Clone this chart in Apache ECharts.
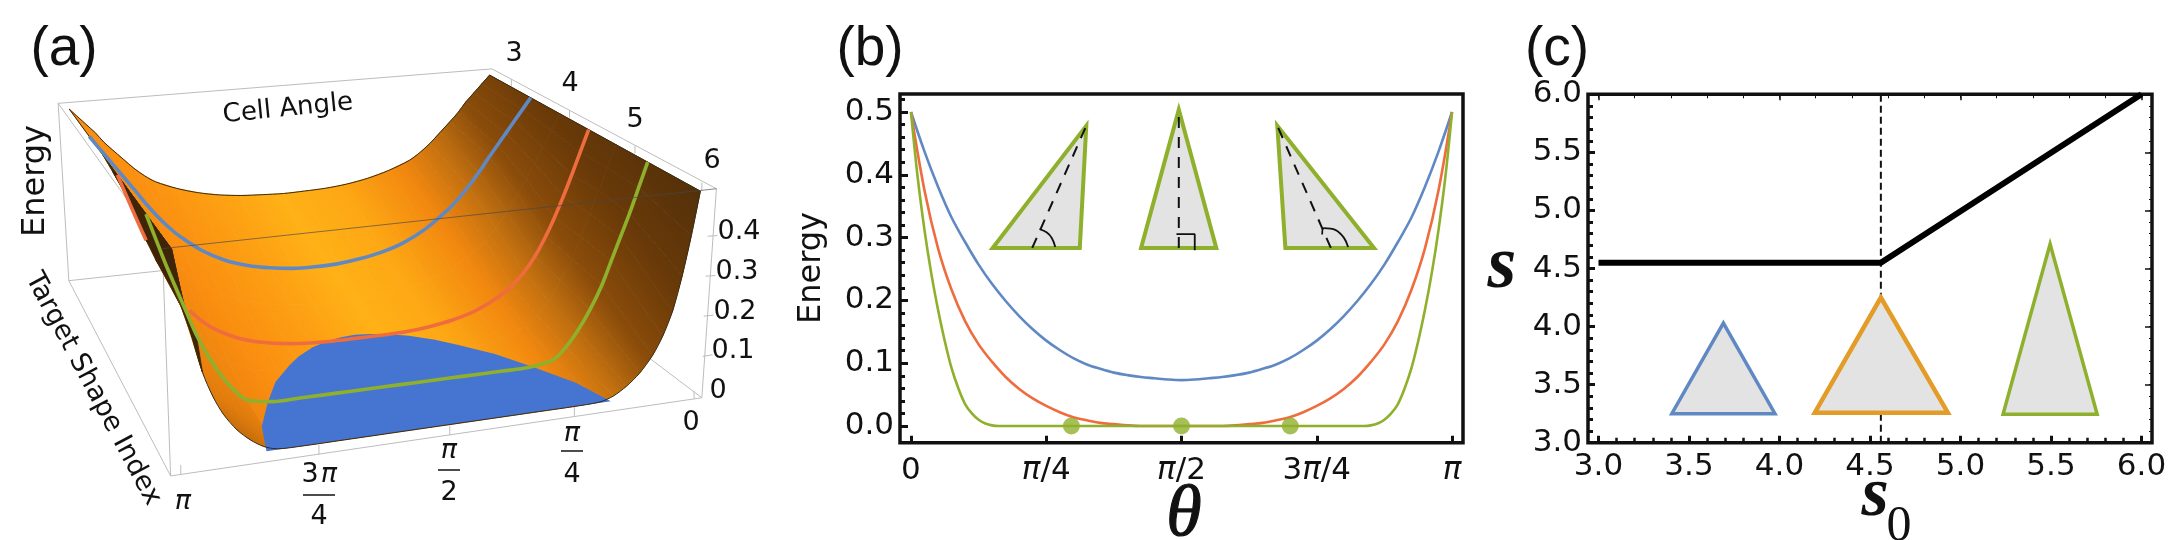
<!DOCTYPE html>
<html><head><meta charset="utf-8"><style>html,body{margin:0;padding:0;background:#fff}#c{width:2171px;height:540px}</style>
<script src="https://cdn.jsdelivr.net/npm/echarts@6/dist/echarts.min.js"></script></head><body><div id="c"></div>
<script>
// ---------- panel (b) data: theta as a fraction of pi, left half of each symmetric curve
const bThetaBlue  = [0,.025,.05,.075,.1,.125,.15,.175,.2,.225,.25,.275,.3,.325,.35,.375,.4,.425,.45,.475,.5];
const bBlue       = [.5,.437,.381,.332,.293,.257,.226,.199,.175,.154,.136,.121,.108,.098,.091,.085,.081,.078,.076,.074,.073];
const bThetaRed   = [0,.025,.05,.075,.1,.125,.15,.175,.2,.225,.25,.275,.3,.325,.35,.375,.4,.425,.5];
const bRed        = [.5,.375,.283,.217,.167,.130,.102,.078,.059,.044,.032,.022,.014,.009,.005,.003,.001,0,0];
const bThetaGreen = [0,.0125,.025,.0375,.05,.0625,.075,.0875,.1,.1125,.125,.1375,.15,.1625,.175,.3,.5];
const bGreen      = [.5,.395,.312,.243,.185,.135,.092,.06,.035,.02,.01,.004,.001,0,0,0,0];
const bDots       = [.2965,.5,.701];
const bXTicks     = [0,.25,.5,.75,1];
const bXLabels    = ['0','{i|π}/4','{i|π}/2','3{i|π}/4','{i|π}'];
const bYTicks     = [0,.1,.2,.3,.4,.5];
const bTriangles  = [[[.151,.2836],[.312,.2836],[.324,.478]],[[.4253,.2836],[.5643,.2836],[.495,.5037]],[[.692,.2836],[.8558,.2836],[.6771,.478]]];
const bDashes     = [[[.2241,.2836],[.324,.478]],[[.495,.2836],[.495,.5037]],[[.776,.2836],[.6771,.478]]];
const bMarks      = [[[.2667,.285],[.2605,.299],[.2512,.308],[.2377,.3134]],[[.4907,.3054],[.5245,.3054],[.5245,.28]],[[.808,.285],[.80,.30],[.785,.312],[.763,.315],[.76,.305]]];
// ---------- panel (c) data
const cS0 = [3,4.56,6];
const cS  = [4.55,4.55,6];
const cTicks = [3,3.5,4,4.5,5,5.5,6];
const cCritical = 4.56;
const cTriBlue   = [[3.405,3.25],[3.975,3.25],[3.69,4.03]];
const cTriOrange = [[4.195,3.258],[4.93,3.258],[4.56,4.25]];
const cTriGreen  = [[5.235,3.245],[5.755,3.245],[5.495,4.71]];
// ---------- panel (a) data: energy surface, left half of the symmetric theta profile
const aTheta = [0,.02,.04,.06,.08,.1,.125,.15,.175,.2,.25,.3,.35,.4,.45,.5];
const aShape = [0,.195,.333,.47,.6,.75,1]; // position along the target shape index axis, 3 to 6
const aRow30 = [.5,.475,.45,.425,.395,.37,.34,.31,.285,.265,.24,.222,.21,.203,.2,.198];
const aRowB  = [.5,.468,.436,.404,.372,.34,.298,.26,.226,.197,.15,.117,.096,.083,.075,.073];
const aRow40 = [.5,.455,.41,.366,.324,.283,.236,.196,.162,.134,.094,.069,.053,.043,.037,.034];
const aRowR  = [.5,.44,.38,.322,.268,.219,.166,.125,.094,.07,.038,.019,.008,.002,0,0];
const aRow48 = [.5,.44,.38,.322,.262,.205,.15,.10,.065,.04,.012,.002,0,0,0,0];
const aRowG  = [.5,.435,.37,.31,.25,.19,.13,.08,.04,.012,0,0,0,0,0,0];
const aRow60 = [.5,.39,.29,.205,.145,.10,.06,.032,.012,.002,0,0,0,0,0,0];
const aZeroV = [.45,.455,.465,.49,.53,.57,.65,.75,.87,1];
const aZeroH = [0,.03,.06,.10,.14,.17,.22,.26,.30,.32];

// ---------- panel (a) projection: corners of the surface in the panel's drawing units
const topC = {a:[1010,218], b:[1445,555], c:[143,317], d:[354,723]};
const baseC= {a:[1030,700], b:[1460,1124], c:[150,810], d:[350,1351]};
function bil(k,t,v,i){const a=k.a[i]*(1-t)+k.c[i]*t, b=k.b[i]*(1-t)+k.d[i]*t; return a*(1-v)+b*v;}
function project(t,v,E){const w=E/.5; return [0,1].map(i=>bil(baseC,t,v,i)*(1-w)+bil(topC,t,v,i)*w);}
const mirrorT = a=>a.concat(a.slice(0,-1).reverse().map(x=>1-x));
const mirrorE = a=>a.concat(a.slice(0,-1).reverse());
const fullT = mirrorT(aTheta);
const rows = [aRow30,aRowB,aRow40,aRowR,aRow48,aRowG,aRow60].map(mirrorE);
const rowLine = r=>fullT.map((t,i)=>project(t,aShape[r],rows[r][i]));
const quad=(r,c)=>[project(fullT[c],aShape[r],rows[r][c]),project(fullT[c+1],aShape[r],rows[r][c+1]),project(fullT[c+1],aShape[r+1],rows[r+1][c+1]),project(fullT[c],aShape[r+1],rows[r+1][c])];
const area=q=>q.reduce((s,p,i)=>{const n=q[(i+1)%4];return s+p[0]*n[1]-n[0]*p[1];},0);
const faceSign=Math.sign(area(quad(0,15)));
// one gradient across the whole surface, running across the lit-to-shaded direction
const N=[.816,-.579];
const surfaceFill={type:'linear',global:true,x:N[0]*-40,y:N[1]*-40,x2:N[0]*460,y2:N[1]*460,colorStops:[
 [0,'#EE840E'],[.08,'#FA8E10'],[.2,'#FD9F13'],[.308,'#FFB116'],[.42,'#FDA714'],[.54,'#F2880F'],[.632,'#C06F10'],[.72,'#8A4C0A'],[.84,'#6A3A08'],[1,'#53300A']
].map(s=>({offset:s[0],color:s[1]}))};
const cells=[];for(let r=0;r<rows.length-1;r++)for(let c=0;c<fullT.length-1;c++)cells.push([r,c]);
const zeroPoly=[];aZeroV.slice().reverse().forEach((v,i,arr)=>{zeroPoly.push(project(.5+aZeroH[arr.length-1-i],v,0));});
aZeroV.forEach((v,i)=>{if(i>0)zeroPoly.push(project(.5-aZeroH[i],v,0));});
// the steep wall near theta = pi, seen from behind: rows are indexed by column from the theta = pi end
const endCol=i=>fullT.length-1-i;
const at=(r,i)=>project(fullT[endCol(i)],aShape[r],rows[r][endCol(i)]);
const wedge=[project(1,aShape[3],.5),project(1,1,.5),at(6,1),at(6,2),at(6,3),at(5,5),at(5,4),at(5,3),at(3,3),at(3,2),at(3,1)];
const shadeBand=[at(6,3),at(6,4),at(6,5),at(6,6),at(6,7),at(6,8),at(6,9),at(5,9),at(5,8),at(5,7),at(5,6),at(5,5)];
// frame of the 3D box (panel drawing units)
const boxBack=[[[120,300],[1015,200]],[[120,300],[142,815]],[[142,815],[352,1382]],[[142,815],[340,785]],[[352,1382],[1448,1155]],[[1448,1155],[1478,548]],[[1015,200],[1478,548]],[[1448,1155],[1340,1040]],[[120,300],[335,722]],[[352,1382],[335,722]],
 [[373,1378],[373,1350]],[[658,1320],[658,1292]],[[928,1264],[928,1236]],[[1185,1210],[1185,1182]],[[1432,1158],[1432,1135]],
 [[1055,230],[1055,250]],[[1175,320],[1175,342]],[[1310,423],[1310,445]],[[1448,530],[1448,555]],
 [[1450,1035],[1470,1030]],[[1452,918],[1472,915]],[[1456,802],[1476,800]],[[1460,686],[1480,684]]];

const FONT='"DejaVu Sans",sans-serif';
const txt=(text,x,y,size,extra,st)=>Object.assign({type:'text',x,y,style:Object.assign({text,fontFamily:FONT,fontSize:size,fill:'#111',textAlign:'center',textVerticalAlign:'middle'},st||{})},extra||{});
const paren=(t,x,y)=>txt(t,x,y,55,null,{fontFamily:'"Liberation Sans"'});
const pi=(x,y)=>txt('π',x,y,27,null,{fontStyle:'italic'});
const bar=(x,y,w)=>({type:'line',shape:{x1:x-w/2,y1:y,x2:x+w/2,y2:y},style:{stroke:'#111',lineWidth:1.5}});
const serif=(t,x,y,size,bold,st)=>txt(t,x,y,size,null,Object.assign({fontFamily:'"Liberation Serif"',fontStyle:'italic',fontWeight:bold?'bold':'normal'},st||{}));
const graphic=[
 paren('(a)',64,50),paren('(b)',870,50),paren('(c)',1557,50),
 txt('Energy',36,181,32,{rotation:Math.PI/2}),
 txt('Cell Angle',288,109,26,{rotation:.1}),
 txt('Target Shape Index',93,389,27,{rotation:-1.08}),
 txt('3',514,54,27),txt('4',570,84,27),txt('5',635,120,27),txt('6',712,161,27),
 txt('0.4',739,232,27),txt('0.3',737,272,27),txt('0.2',735,312,27),txt('0.1',733,351,27),txt('0',718,391,27),
 txt('0',691,423,27),pi(572,434),bar(572,451,22),txt('4',572,475,27),
 pi(449,451),bar(449,470,22),txt('2',449,493,27),
 txt('3',310,475,27),pi(329,475),bar(319,495,32),txt('4',319,517,27),pi(183,502),
 txt('Energy',812,268,32,{rotation:Math.PI/2}),
 serif('θ',1184,516,72,false,{stroke:'#111',lineWidth:1.2}),
 serif('s',1502,268,74,true),
 serif('s',1875,497,70,true),
 txt('0',1899,527,50,null,{fontFamily:'"Liberation Serif"'})
];
const range=(a,b,s)=>{const o=[];for(let i=Math.round(a/s);i<=Math.round(b/s);i++)o.push(+(i*s).toFixed(4));return o;};
const labelStyle={color:'#111',fontFamily:FONT,fontSize:31};
const hiddenAxis=(g,min,max,inv)=>({type:'value',gridIndex:g,min,max,inverse:!!inv,show:false});
const tickAxis=(g,pos,min,max,values,len,width)=>({type:'value',gridIndex:g,position:pos,min,max,axisLine:{show:false,onZero:false},splitLine:{show:false},axisLabel:{show:false},axisTick:{show:true,inside:true,length:len,customValues:values,lineStyle:{color:'#111',width}}});
const labelAxis=(g,pos,min,max,values,fmt,margin,len)=>({type:'value',gridIndex:g,position:pos,min,max,axisLine:{show:false,onZero:false},splitLine:{show:false},
 axisLabel:Object.assign({show:true,customValues:values,formatter:fmt,margin,hideOverlap:false,rich:{i:{fontFamily:FONT,fontSize:31,fontStyle:'italic',color:'#111'}}},labelStyle),axisTick:{show:true,inside:true,length:len,customValues:values,lineStyle:{color:'#111',width:3}}});

const bXMin=-.0203,bXMax=1.0203,bYMin=-.0266,bYMax=.5287;
const cXMin=2.942,cXMax=6.058;
const xAxis=[hiddenAxis(0,0,1568),
 labelAxis(1,'bottom',bXMin,bXMax,bXTicks,v=>bXLabels[bXTicks.indexOf(+v)],13,7),
 labelAxis(2,'bottom',cXMin,cXMax,cTicks,v=>(+v).toFixed(1),9,7),
 tickAxis(2,'bottom',cXMin,cXMax,range(3,6,.1),5,2.5),
 tickAxis(2,'top',cXMin,cXMax,[3,4,5,6],6,1.5),
 tickAxis(2,'top',cXMin,cXMax,range(3,6,.2),4,1)];
const yAxis=[hiddenAxis(0,0,1568,true),
 labelAxis(1,'left',bYMin,bYMax,bYTicks,v=>(+v).toFixed(1),6,8),
 tickAxis(1,'left',bYMin,bYMax,range(0,.52,.02),5,3),
 labelAxis(2,'left',3,6,cTicks,v=>(+v).toFixed(1),6,7),
 tickAxis(2,'left',3,6,range(3,6,.1),5,3),
 tickAxis(2,'right',3,6,cTicks,7,1.5),
 tickAxis(2,'right',3,6,range(3,6,.1),3,1)];

const mirrorPts=(t,e)=>mirrorT(t).map((x,i)=>[x,mirrorE(e)[i]]);
const lineS=(xi,yi,data,color,width,extra)=>Object.assign({type:'line',xAxisIndex:xi,yAxisIndex:yi,data,showSymbol:false,symbol:'none',silent:true,clip:false,lineStyle:{color,width},z:4},extra||{});
const poly=(pts,api,style)=>({type:'polygon',shape:{points:pts.map(p=>api.coord(p))},style});
const polyS=(pts,z,style)=>({type:'custom',xAxisIndex:0,yAxisIndex:0,silent:true,clip:false,z,data:[[0,0]],renderItem:(p,api)=>poly(pts,api,style)});
const triSeries=(xi,yi,tri,stroke,w)=>({type:'custom',xAxisIndex:xi,yAxisIndex:yi,silent:true,clip:false,z:3,data:[[0,0]],renderItem:(p,api)=>poly(tri,api,{fill:'#E3E3E3',stroke,lineWidth:w,lineJoin:'miter'})});
const C_BLUE='#6089C4',C_RED='#EE6C3D',C_GREEN='#8FB02C',C_ORANGE='#E29C27';
const redLine=rowLine(3).map((p,i)=>(fullT[i]>.86&&fullT[i]<.93)?['-','-']:p);

const series=[
 {type:'custom',xAxisIndex:0,yAxisIndex:0,silent:true,clip:false,z:1,data:boxBack.map((b,i)=>[i,0]),
  renderItem:(p,api)=>{const b=boxBack[api.value(0)],a=api.coord(b[0]),c=api.coord(b[1]);return {type:'line',shape:{x1:a[0],y1:a[1],x2:c[0],y2:c[1]},style:{stroke:'#BDBDBD',lineWidth:1}};}},
 {type:'custom',xAxisIndex:0,yAxisIndex:0,silent:true,clip:false,z:2,data:cells,
  renderItem:(p,api)=>{const r=api.value(0),c=api.value(1);const q=quad(r,c);
   const back=fullT[c]>.6&&Math.sign(area(q))!==faceSign;
   const fill=back?'#3F2508':surfaceFill;
   return poly(q,api,{fill,stroke:fill,lineWidth:.8});}},
 polyS(shadeBand,3,{fill:{type:'linear',x:0,y:1,x2:1,y2:0,colorStops:[{offset:.1,color:'rgba(110,60,8,.85)'},{offset:.4,color:'rgba(200,110,10,.35)'},{offset:.7,color:'rgba(240,130,15,0)'}]}}),
 polyS(wedge,3,{fill:'#3F2508',stroke:'#3F2508',lineWidth:.8}),
 polyS(zeroPoly,3,{fill:'#4674D1'}),
 lineS(0,0,rowLine(0),'#3A2A10',1,{smooth:.3}),
 lineS(0,0,rowLine(6),'#3A2A10',1,{smooth:.3}),
 lineS(0,0,[project(0,0,.5),project(0,1,.5)],'#3A2A10',1),
 lineS(0,0,[project(1,0,.5),project(1,1,.5)],'#3A2A10',1),
 lineS(0,0,rowLine(1),C_BLUE,3.6,{smooth:.3,z:5}),
 lineS(0,0,redLine,C_RED,3.6,{smooth:.3,z:5,connectNulls:false}),
 lineS(0,0,rowLine(5),C_GREEN,3.6,{smooth:.3,z:5}),
 lineS(0,0,[[335,722],[1478,548]],'rgba(70,70,70,.65)',1,{z:6}),
 // panel (b)
 lineS(1,1,mirrorPts(bThetaBlue,bBlue),C_BLUE,2.6,{smooth:.35}),
 lineS(1,1,mirrorPts(bThetaRed,bRed),C_RED,2.6,{smooth:.35}),
 lineS(1,1,mirrorPts(bThetaGreen,bGreen),C_GREEN,2.6,{smooth:.35}),
 {type:'scatter',xAxisIndex:1,yAxisIndex:1,data:bDots.map(x=>[x,0]),symbolSize:17,silent:true,itemStyle:{color:C_GREEN},z:6},
 ...bTriangles.map(t=>triSeries(1,1,t,C_GREEN,4)),
 ...bDashes.map(d=>lineS(1,1,d,'#111',2,{lineStyle:{color:'#111',width:2,type:[11,9]},z:5})),
 ...bMarks.map(m=>lineS(1,1,m,'#111',1.8,{smooth:.4,z:5})),
 // panel (c)
 lineS(2,3,[[cCritical,3],[cCritical,6]],'#111',2,{lineStyle:{color:'#111',width:2,type:[7,4]},z:2}),
 triSeries(2,3,cTriBlue,C_BLUE,3.5),triSeries(2,3,cTriOrange,C_ORANGE,4.5),triSeries(2,3,cTriGreen,C_GREEN,3.5),
 lineS(2,3,cS0.map((x,i)=>[x,cS[i]]),'#000',6,{z:5})
];
const grid=[
 {left:0,top:0,width:760,height:540,show:false},
 {left:900,top:94,width:563,height:348.7,show:true,borderColor:'#111',borderWidth:3.5,backgroundColor:'transparent'},
 {left:1588,top:94.3,width:564,height:348.4,show:true,borderColor:'#111',borderWidth:3.5,backgroundColor:'transparent'}
];
const chart=echarts.init(document.getElementById('c'),null,{renderer:'canvas'});
chart.setOption({animation:false,backgroundColor:'#fff',grid,xAxis,yAxis,series,graphic:{elements:graphic}});
</script></body></html>
